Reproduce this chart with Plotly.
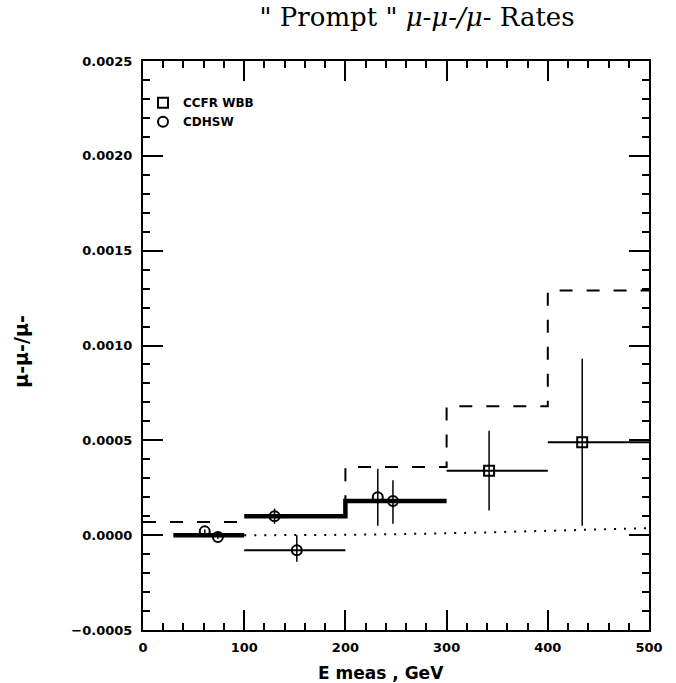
import plotly.graph_objects as go

# ---- data ----
# dashed prediction histogram
hist_edges = [0, 100, 200, 300, 400, 500]
hist_vals = [0.00007, 0.00010, 0.00036, 0.00068, 0.00129]

# dotted background curve
dot_x = [100, 200, 300, 400, 500]
dot_y = [0.0, 0.000002, 0.00001, 0.000023, 0.000037]

# CDHSW energy bins (thick)
bin_lo = [30, 100, 200]
bin_hi = [100, 200, 300]
bin_val = [0.0, 0.00010, 0.00018]

# CDHSW points
cd_x = [61, 74, 130, 232, 247]
cd_y = [0.00002, -0.00001, 0.00010, 0.00020, 0.00018]
cd_eup = [0.00001, 0.00001, 0.00004, 0.00015, 0.00011]
cd_edn = [0.00001, 0.00001, 0.00004, 0.00015, 0.00012]

# CDHSW point with thin bin
cd2_x = [152]
cd2_y = [-0.00008]
cd2_lo = [100]
cd2_hi = [200]
cd2_eup = [0.00008]
cd2_edn = [0.00006]

# CCFR WBB points
cc_x = [342, 434]
cc_y = [0.00034, 0.00049]
cc_lo = [300, 400]
cc_hi = [400, 500]
cc_eup = [0.00021, 0.00044]
cc_edn = [0.00021, 0.00044]

x_ticks = [0, 100, 200, 300, 400, 500]
y_ticks = [-0.0005, 0, 0.0005, 0.001, 0.0015, 0.002, 0.0025]

fig = go.Figure()

# dashed histogram
fig.add_trace(go.Scatter(
    x=hist_edges, y=hist_vals + [hist_vals[-1]], mode="lines",
    line=dict(color="black", width=2, dash="13px,14px", shape="hv"),
    showlegend=False, hoverinfo="skip"))

# dotted curve
fig.add_trace(go.Scatter(
    x=dot_x, y=dot_y, mode="lines",
    line=dict(color="black", width=2, dash="2px,8px", shape="spline"),
    showlegend=False, hoverinfo="skip"))

# thick CDHSW bins (0-100 separate, 100-300 as a step)
bx = [bin_lo[0], bin_hi[0], None, bin_lo[1], bin_lo[2], bin_hi[2]]
by = [bin_val[0], bin_val[0], None, bin_val[1], bin_val[2], bin_val[2]]
fig.add_trace(go.Scatter(
    x=bx, y=by, mode="lines", connectgaps=False,
    line=dict(color="black", width=4.5, shape="hv"),
    showlegend=False, hoverinfo="skip"))

def xerr(xs, lo, hi, th=2):
    return dict(type="data", symmetric=False,
                array=[h - x for x, h in zip(xs, hi)],
                arrayminus=[x - l for x, l in zip(xs, lo)],
                color="black", thickness=th, width=0)

def yerr(up, dn):
    return dict(type="data", symmetric=False, array=up, arrayminus=dn,
                color="black", thickness=1.5, width=0)

fig.add_trace(go.Scatter(
    x=cc_x, y=cc_y, mode="markers", name="CCFR WBB",
    marker=dict(symbol="square-open", size=10, color="black",
                line=dict(width=2, color="black")),
    error_x=xerr(cc_x, cc_lo, cc_hi, 2),
    error_y=yerr(cc_eup, cc_edn)))

fig.add_trace(go.Scatter(
    x=cd_x, y=cd_y, mode="markers", name="CDHSW",
    marker=dict(symbol="circle-open", size=10, color="black",
                line=dict(width=2, color="black")),
    error_y=yerr(cd_eup, cd_edn)))

fig.add_trace(go.Scatter(
    x=cd2_x, y=cd2_y, mode="markers", showlegend=False,
    marker=dict(symbol="circle-open", size=10, color="black",
                line=dict(width=2, color="black")),
    error_x=xerr(cd2_x, cd2_lo, cd2_hi, 2),
    error_y=yerr(cd2_eup, cd2_edn)))

tickfont = dict(family="DejaVu Sans", size=13, color="black", weight="bold")

fig.update_layout(
    width=676, height=683,
    margin=dict(l=143, r=27, t=61, b=53),
    paper_bgcolor="white", plot_bgcolor="white",
    title=dict(text='" Prompt " <i>μ-μ-/μ-</i> Rates',
               font=dict(family="DejaVu Serif", size=26, color="black"),
               x=0.617, xanchor="center", y=0.975, yanchor="middle",
               xref="container", yref="container"),
    legend=dict(x=0.0, y=0.952, xanchor="left", yanchor="top",
                bgcolor="rgba(0,0,0,0)",
                font=dict(family="DejaVu Sans", size=12, color="black", weight="bold"),
                tracegroupgap=0),
    showlegend=True,
    annotations=[
        dict(text="μ-μ-/μ-", xref="paper", yref="paper", x=-0.24, y=0.49,
             xanchor="center", yanchor="middle", textangle=-90, showarrow=False,
             font=dict(family="DejaVu Sans", size=19, color="black", weight="bold")),
        dict(text="E meas , GeV", xref="paper", yref="paper", x=0.47, y=-0.075,
             xanchor="center", yanchor="middle", showarrow=False,
             font=dict(family="DejaVu Sans", size=17, color="black", weight="bold")),
    ],
)

fig.update_xaxes(
    range=[0, 500], tickvals=x_ticks,
    ticks="inside", ticklen=20, tickwidth=1.5, tickcolor="black",
    minor=dict(dtick=20, ticks="inside", ticklen=7, tickwidth=1.5, tickcolor="black"),
    showline=True, linecolor="black", linewidth=2, mirror="allticks",
    showgrid=False, zeroline=False, tickfont=tickfont, ticklabelstandoff=4,
)
fig.update_yaxes(
    range=[-0.0005, 0.0025], tickvals=y_ticks,
    tickformat=".4f",
    ticks="inside", ticklen=20, tickwidth=1.5, tickcolor="black",
    minor=dict(dtick=0.0001, ticks="inside", ticklen=7, tickwidth=1.5, tickcolor="black"),
    showline=True, linecolor="black", linewidth=2, mirror="allticks",
    showgrid=False, zeroline=False, tickfont=tickfont, ticklabelstandoff=6,
)

fig.write_html("out.html", config={"displayModeBar": False},
               post_script="document.body.style.margin='0px';")
